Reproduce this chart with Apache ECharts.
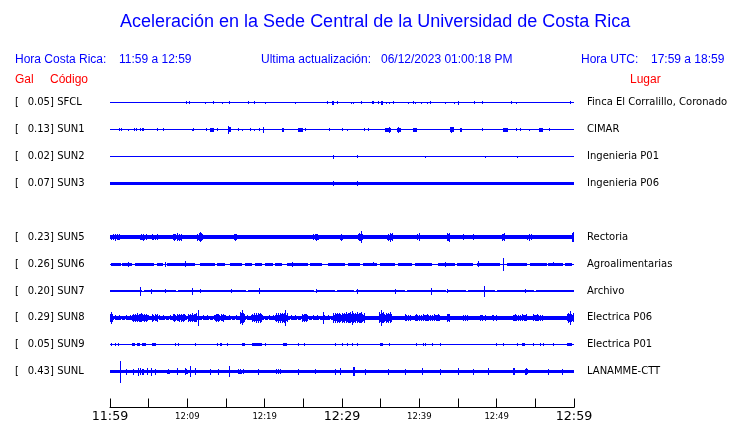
<!DOCTYPE html>
<html><head><meta charset="utf-8">
<script src="https://cdn.jsdelivr.net/npm/echarts@6/dist/echarts.min.js"></script>
<style>html,body{margin:0;padding:0;background:#fff;overflow:hidden;width:740px;height:423px}#c{width:740px;height:423px}</style>
</head><body><div id="c"></div>
<script>
// ---- data (time in minutes after 11:59, amplitude in plot units; row spacing = 27) ----
const timeLabels = ['11:59','12:09','12:19','12:29','12:39','12:49','12:59'];
const bigLabels = ['11:59','12:29','12:59'];
const codes = ['SFCL','SUN1','SUN2','SUN3','SUN5','SUN6','SUN7','SUN8','SUN9','SUNL'];
const gal = ['0.05','0.13','0.02','0.07','0.23','0.26','0.20','0.29','0.05','0.43'];
const places = ['Finca El Corralillo, Coronado','CIMAR','Ingenieria P01','Ingenieria P06','Rectoria','Agroalimentarias','Archivo','Electrica P06','Electrica P01','LANAMME-CTT'];
const rowSlots = [0,1,2,3,5,6,7,8,9,10];

const sfclBands = [[0,60,0.5],[28.75,29.0,2],[35.0,35.35,2],[44.95,45.15,2]];
const sfclSpikes = [[9.79,1.5],[10.25,1.5],[12.28,1],[13.32,1.5],[14.52,1],[15.42,1.5],[17.88,1.5],[18.66,1.5],[20.08,1],[23.96,1],[28.1,1.5],[29.39,1.5],[31.13,1],[31.46,1],[32.42,1.5],[33.84,1.5],[34.05,1.5],[34.62,1.5],[35.65,1],[36.12,1],[36.56,1.5],[38.57,1],[39.22,1.5],[39.48,1],[40.22,1],[41.03,1],[41.34,1.5],[43.36,1],[44.44,1],[47.07,1.5],[48.1,1.5],[51.89,1.5],[52.54,1],[59.52,1.5]];

const sun1Bands = [[0,60,0.5],[12.89,13.49,2],[15.39,15.61,2.5],[22.24,22.54,2],[24.35,24.92,2],[35.6,36.3,2],[37.15,37.59,2],[39.22,39.66,2],[44.0,44.51,2.5],[45.3,45.47,2],[50.86,51.5,2],[55.47,56.03,2]];
const sun1Spikes = [[1.2,1.5],[1.38,1.5],[2.37,1],[3.14,1.5],[3.36,1.5],[3.92,1.5],[4.14,1.5],[4.31,1.5],[6.12,1.5],[6.89,1.5],[10.56,1],[10.77,1.5],[12.45,1.5],[13.87,1.5],[15.22,4],[16.59,1.5],[17.11,1],[18.14,1.5],[18.66,1],[19.31,1.5],[19.82,3],[25.25,1.5],[28.36,1.5],[29.94,1.5],[30.69,1],[32.88,1.5],[33.4,1.5],[36.12,3],[37.24,3],[44.1,3],[48.1,1.5],[52.54,1.5],[53.06,1.5],[54.22,1],[56.73,1.5]];

const sun2Bands = [[0,60,0.5]];
const sun2Spikes = [[28.8,2],[31.98,1.5],[40.77,1],[48.53,1],[52.67,1]];

const sun3Bands = [[0,60,1.2],[0,6.1,1.8],[6.3,16.45,1.8],[16.65,21.4,1.8],[21.55,38.9,1.8],[39.1,40.15,1.8],[40.3,52.2,1.8],[52.35,60,1.8]];
const sun3Spikes = [[28.88,3],[31.98,2.5]];

const sun5Bands = [[0,60,2.2],[0,1.29,3],[3.88,4.78,3],[5.43,6.21,3],[8.15,9.31,3.5],[11.25,12.03,4.5],[15.9,16.42,3],[26.25,27.16,3],[29.74,30.13,3],[32.07,32.72,4],[35.82,36.59,4],[39.7,40.09,3.5],[43.58,43.97,4],[50.69,51.08,3.5],[53.92,54.57,3],[59.74,60,4.5]];
const sun5Spikes = [[0.6,3.5],[4.3,3.5],[8.7,4],[11.6,5],[16.1,3.5],[26.7,3.5],[29.9,3.5],[32.5,6],[36.2,4.5],[39.9,4],[43.8,4.5],[45.65,3],[46.94,3],[50.9,4],[54.2,3.5],[59.9,5]];

const sun6Bands = [[0,60,0.5],[0.13,1.42,1.5],[1.59,2.8,1.5],[3.23,5.73,1.5],[6.03,6.89,1.5],[7.33,9.27,1.5],[9.35,10.99,1.5],[11.64,13.58,1.5],[13.8,14.87,1.5],[15.52,17.03,1.5],[17.46,18.32,1.5],[18.75,19.62,1.5],[20.04,21.12,1.5],[21.34,22.2,1.5],[22.85,25.64,1.5],[25.86,27.37,1.5],[28.23,30.39,1.5],[30.82,32.33,1.5],[32.76,34.49,1.5],[34.91,36.85,1.5],[37.28,39.01,1.5],[39.44,41.6,1.5],[42.45,44.61,1.5],[44.83,46.98,1.5],[47.41,50.43,1.5],[51.29,53.88,1.5],[54.31,56.47,1.5],[56.68,58.62,1.5],[58.84,59.7,1.5]];
const sun6Spikes = [[2.29,2.5],[7.11,2.5],[9.7,3],[23.57,2.5],[34.05,2],[43.32,2.5],[47.55,3],[50.86,6.5],[57.32,2]];

const sun7Bands = [[0,60,0.5],[0,4.15,1.4],[4.4,8.5,1.4],[8.75,17.6,1.4],[17.85,26.4,1.4],[26.6,29.1,1.4],[29.35,31.55,1.4],[31.8,38.15,1.4],[38.4,43.45,1.4],[43.7,46.05,1.4],[46.3,49.8,1.4],[50.05,54.85,1.4],[55.1,60,1.4]];
const sun7Spikes = [[3.88,4.5],[5.26,2.5],[7.15,2],[10.64,3.5],[11.64,2],[15.61,2],[19.31,3],[26.64,2],[31.98,2.5],[36.85,2.5],[41.47,3.5],[43.62,2],[48.36,5.5],[53.66,2]];

const sun8Bands = [[0,30,2.5],[30,60,1.8],[0,0.4,6.5],[2.84,4.91,4.5],[5.43,6.21,4],[8.15,9.7,4],[10.09,11.25,4.5],[13.58,14.87,4],[16.81,17.46,6],[18.36,19.66,5],[21.34,23.02,5],[24.83,25.6,4],[28.84,30.39,5],[29.74,32.98,5.5],[34.78,36.47,5.5],[38.15,39.05,3.5],[39.44,42.67,3.5],[43.58,43.97,4],[45.52,46.29,3],[47.84,48.75,3],[49.4,50.04,3],[52.11,53.92,3.5],[54.7,55.99,3.5],[59.1,60,5]];
const sun8Spikes = [[11.42,8],[17.07,7.5],[22.63,8],[27.58,6],[31.25,7],[35.0,8],[59.48,7]];

const sun9Bands = [[0,60,0.5],[2.84,3.23,1.3],[3.49,3.88,1.3],[4.14,4.66,1.3],[5.43,5.95,1.3],[14.22,14.48,1.3],[17.07,17.46,1.3],[18.36,19.66,1.3],[22.37,22.89,1.3],[34.91,35.3,1.3],[53.24,53.66,1.3],[59.06,59.7,1.3]];
const sun9Spikes = [[0.13,1.3],[0.65,1.3],[1.07,1.3],[8.41,1.3],[8.83,1.3],[10.99,1.3],[13.8,1.3],[15.09,1.3],[20.04,1.3],[24.35,1.3],[25.13,1.3],[29.09,1.3],[29.96,1.3],[30.61,1.3],[31.25,1.3],[31.9,1.3],[36.12,1.3],[39.57,1.3],[40.51,1.3],[40.73,1.3],[41.6,1.3],[42.67,1.3],[49.91,1.3],[50.86,1.3],[52.59,1.3],[54.74,1.3],[55.6,1.3],[56.03,1.3],[57.32,1.3]];

const sunlBands = [[0,60,1.8],[4.1,4.44,3],[7.33,7.76,3],[9.7,10.12,3.5],[16.55,17.46,2.5],[21.34,22.24,2.5],[31.42,31.68,4.5],[40.31,40.51,3.5],[52.15,52.37,3.5],[53.66,54.09,3.5]];
const sunlSpikes = [[1.33,11],[2.03,3],[2.94,3],[3.66,4],[3.88,3.5],[4.75,3.5],[5.26,4],[5.82,3],[8.62,3.5],[10.34,5.5],[10.99,3.5],[12.93,3],[14.0,3],[15.39,5.5],[19.18,3],[24.35,3],[26.51,2.5],[29.09,3],[29.74,3.5],[31.55,4.5],[32.97,3],[35.99,3],[38.15,3],[42.67,3],[45.04,3.5],[46.98,3],[48.92,3.5],[56.68,3],[58.41,3]];

const traceBands = [sfclBands,sun1Bands,sun2Bands,sun3Bands,sun5Bands,sun6Bands,sun7Bands,sun8Bands,sun9Bands,sunlBands];
const traceSpikes = [sfclSpikes,sun1Spikes,sun2Spikes,sun3Spikes,sun5Spikes,sun6Spikes,sun7Spikes,sun8Spikes,sun9Spikes,sunlSpikes];

// ---- chart ----
const ROW = 27;
const BLUE = '#0000ff';
const noisyTraces = ['SUN5','SUN8','SUNL'];   // burst bands drawn with a ragged (column-varying) edge
const RAGGED = [1, 0.72, 0.93, 0.6, 0.86, 1, 0.68, 0.8, 0.95, 0.64, 0.9];
const chart = echarts.init(document.getElementById('c'), null, {renderer:'canvas', width:740, height:423});

function makeRender(noisy) {
  return function (params, api) {
    const t0 = api.value(0), t1 = api.value(1), yc = api.value(2), a = api.value(3);
    const pA = api.coord([t0, yc]);
    const pB = api.coord([t1, yc]);
    const unit = Math.abs(api.coord([t0, yc + 1])[1] - pA[1]);
    let x0 = Math.round(pA[0]), x1 = Math.round(pB[0]);
    if (x1 - x0 < 1) x1 = x0 + 1;
    const cy = pA[1];
    const fullSpan = (t0 === 0 && t1 === 60);
    if (!noisy || fullSpan || x1 - x0 < 3 || a < 2) {
      let y0 = Math.round(cy - a * unit), y1 = Math.round(cy + a * unit);
      if (y1 - y0 < 1) y1 = y0 + 1;
      return {type:'rect', shape:{x:x0, y:y0, width:x1 - x0, height:y1 - y0}, style:{fill:BLUE}};
    }
    const children = [];
    for (let x = x0; x < x1; x++) {
      const f = RAGGED[(x * 7 + 3) % RAGGED.length];
      const h = Math.max(1.2, a * f);
      let y0 = Math.round(cy - h * unit), y1 = Math.round(cy + h * unit);
      children.push({type:'rect', shape:{x:x, y:y0, width:1, height:y1 - y0}, style:{fill:BLUE}});
    }
    return {type:'group', children};
  };
}

const series = codes.map((c, i) => {
  const yc = rowSlots[i] * ROW;
  const data = traceBands[i].map(b => [b[0], b[1], yc, b[2]])
    .concat(traceSpikes[i].map(s => [s[0], s[0], yc, s[1]]));
  return {type:'custom', name:c, renderItem:makeRender(noisyTraces.includes(c)), data,
          encode:{x:[0,1], y:2}, silent:true, animation:false};
});

function rowLabel(v, fn) {
  const r = Math.round(v / ROW);
  if (Math.abs(v - r * ROW) > 0.01) return '';
  const idx = rowSlots.indexOf(r);
  return idx >= 0 ? fn(idx) : '';
}

const hdr = {fontFamily:'Liberation Sans', fontSize:12, fontWeight:'normal', color:BLUE};
const red = {fontFamily:'Liberation Sans', fontSize:12, fontWeight:'normal', color:'#ff0000'};
function t(text, left, top, style) { return {text, left, top, padding:0, textStyle:style}; }

chart.setOption({
  animation:false,
  title:[
    {text:'Aceleración en la Sede Central de la Universidad de Costa Rica', left:120, top:13, padding:0,
     textStyle:{fontFamily:'Liberation Sans', fontSize:18, fontWeight:'normal', color:BLUE}},
    t('Hora Costa Rica:', 15, 54, hdr),
    t('11:59 a 12:59', 119, 54, hdr),
    t('Ultima actualización:', 261, 54, hdr),
    t('06/12/2023 01:00:18 PM', 381, 54, hdr),
    t('Hora UTC:', 581, 54, hdr),
    t('17:59 a 18:59', 651, 54, hdr),
    t('Gal', 15, 74, red),
    t('Código', 50, 74, red),
    t('Lugar', 630, 74, red)
  ],
  grid:{left:110, width:464, top:76, height:333, containLabel:false},
  xAxis:{type:'value', min:0, max:60, interval:5,
    axisLine:{show:true, onZero:false, lineStyle:{color:'#000', width:1}},
    axisTick:{show:true, inside:true, length:9, lineStyle:{color:'#000', width:1}},
    splitLine:{show:false},
    axisLabel:{margin:2, showMinLabel:true, showMaxLabel:true,
      formatter:(v)=>{ const r = Math.round(v); if (r % 10 !== 0) return ''; const s = timeLabels[r/10]; return bigLabels.includes(s) ? '{big|'+s+'}' : '{small|'+s+'}'; },
      rich:{big:{fontFamily:'DejaVu Sans', fontSize:12.7, color:'#000', lineHeight:14}, small:{fontFamily:'DejaVu Sans', fontSize:8.5, color:'#000', lineHeight:14}}}
  },
  yAxis:[
    {type:'value', position:'left', inverse:true, min:-ROW, max:ROW*34/3, interval:ROW,
     axisLine:{show:false}, axisTick:{show:false}, splitLine:{show:false},
     axisLabel:{show:true, align:'left', margin:95, showMinLabel:true, showMaxLabel:false,
       formatter:(v)=>rowLabel(v, i=>'{a|[}{b|'+gal[i]+']} {b|'+codes[i]+'}'),
       rich:{a:{width:12.7, fontFamily:'DejaVu Sans', fontSize:10, color:'#000'}, b:{fontFamily:'DejaVu Sans', fontSize:10, color:'#000'}}}},
    {type:'value', position:'right', inverse:true, min:-ROW, max:ROW*34/3, interval:ROW,
     axisLine:{show:false}, axisTick:{show:false}, splitLine:{show:false},
     axisLabel:{show:true, align:'left', margin:13, showMaxLabel:false,
       formatter:(v)=>rowLabel(v, i=>places[i]),
       fontFamily:'DejaVu Sans', fontSize:10, color:'#000'}}
  ],
  series
});
</script></body></html>
